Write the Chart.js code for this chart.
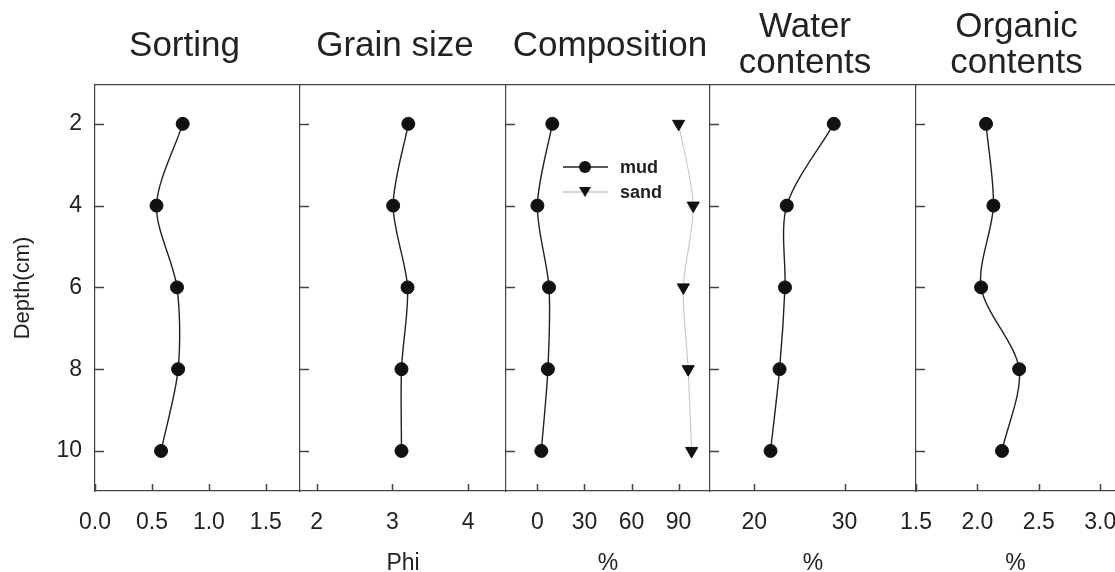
<!DOCTYPE html>
<html>
<head>
<meta charset="utf-8">
<script src="https://cdn.jsdelivr.net/npm/chart.js@4/dist/chart.umd.min.js"></script>
<style>
  body { margin: 0; background: #fff; }
  #wrap { position: relative; width: 1115px; height: 572px; }
  #wrap canvas { position: absolute; left: 0; top: 0; }
</style>
</head>
<body>
<div id="wrap">
  <canvas id="c0" width="1115" height="572"></canvas>
  <canvas id="c1" width="1115" height="572"></canvas>
  <canvas id="c2" width="1115" height="572"></canvas>
  <canvas id="c3" width="1115" height="572"></canvas>
  <canvas id="c4" width="1115" height="572"></canvas>
</div>
<script>
// data
const depths = [2, 4, 6, 8, 10];
const sorting = [0.77, 0.54, 0.72, 0.73, 0.58];
const grainSize = [3.21, 3.01, 3.2, 3.12, 3.12];
const mud = [9.5, 0, 7.4, 6.7, 2.5];
const sand = [90, 99.3, 93, 96.1, 98.3];
const water = [28.8, 23.6, 23.4, 22.8, 21.8];
const organic = [2.07, 2.13, 2.03, 2.34, 2.2];

const depthTicks = [2, 4, 6, 8, 10];
const sortingTicks = [0, 0.5, 1.0, 1.5];
const grainTicks = [2, 3, 4];
const compTicks = [0, 30, 60, 90];
const waterTicks = [20, 30];
const organicTicks = [1.5, 2.0, 2.5, 3.0];

const titles = ['Sorting', 'Grain size', 'Composition', ['Water', 'contents'], ['Organic', 'contents']];
const units = ['', 'Phi', '%', '%', '%'];

// layout
const W = 1115, H = 572;
const edges = [95, 300, 506, 710, 916, 1115];
const titleShift = [-13, -8, 2, -8, 1]; // titles aren't exactly centred in the original
const TOP = 85, BOTTOM = 491;
const FONT = "'Liberation Sans', Arial, sans-serif";
const axisCol = '#444';
const textCol = '#222';

const pts = (vals) => vals.map((v, i) => ({ x: v, y: depths[i] }));

const mudStyle = {
  borderColor: '#222', borderWidth: 1.4, tension: 0.3,
  pointRadius: 6.5, pointBackgroundColor: '#111', pointBorderColor: '#111', pointBorderWidth: 1
};

// ticks drawn inward like the original plot
const inTicks = {
  id: 'inTicks',
  afterDraw(chart) {
    const { ctx, chartArea: a, scales: { x, y } } = chart;
    ctx.save();
    ctx.strokeStyle = axisCol;
    ctx.lineWidth = 1.5;
    ctx.beginPath();
    y.ticks.forEach(t => {
      const py = Math.round(y.getPixelForValue(t.value)) + 0.5;
      ctx.moveTo(a.left, py); ctx.lineTo(a.left + 9, py);
    });
    x.ticks.forEach(t => {
      const px = Math.round(x.getPixelForValue(t.value)) + 0.5;
      ctx.moveTo(px, a.bottom); ctx.lineTo(px, a.bottom - 7);
    });
    ctx.stroke();
    ctx.restore();
  }
};

// panel heading above the plot area
const panelTitle = {
  id: 'panelTitle',
  afterDraw(chart, args, opts) {
    const { ctx, chartArea: a } = chart;
    const lines = [].concat(opts.text);
    const cx = (a.left + a.right) / 2 + opts.shift;
    const base = lines.length === 1 ? [56] : [37, 73];
    ctx.save();
    ctx.font = '35px ' + FONT;
    ctx.fillStyle = textCol;
    ctx.textAlign = 'center';
    ctx.textBaseline = 'alphabetic';
    lines.forEach((t, k) => ctx.fillText(t, cx, base[k]));
    ctx.restore();
  }
};

// small legend inside the composition panel
const compLegend = {
  id: 'compLegend',
  afterDraw(chart) {
    const ctx = chart.ctx;
    const rows = [['mud', 167, '#222', 'circle'], ['sand', 192, '#c8c8c8', 'triangle']];
    ctx.save();
    rows.forEach(([label, yy, col, shape]) => {
      ctx.strokeStyle = col; ctx.lineWidth = 1.3;
      ctx.beginPath(); ctx.moveTo(563, yy); ctx.lineTo(608, yy); ctx.stroke();
      ctx.fillStyle = '#111';
      ctx.beginPath();
      if (shape === 'circle') {
        ctx.arc(585, yy, 6, 0, Math.PI * 2);
      } else {
        ctx.moveTo(579, yy - 5); ctx.lineTo(591, yy - 5); ctx.lineTo(585, yy + 5); ctx.closePath();
      }
      ctx.fill();
      ctx.fillStyle = textCol;
      ctx.font = 'bold 18px ' + FONT;
      ctx.textBaseline = 'middle';
      ctx.fillText(label, 620, yy + 1);
    });
    ctx.restore();
  }
};

function panel(i, datasets, xmin, xmax, xticks, decimals, extraPlugins) {
  const left = edges[i], right = edges[i + 1];
  const yW = i === 0 ? 95 : 0;
  return new Chart(document.getElementById('c' + i), {
    type: 'line',
    data: { datasets },
    options: {
      responsive: false,
      animation: false,
      layout: { autoPadding: false, padding: { left: left - yW, right: W - right, top: 0, bottom: 0 } },
      plugins: {
        legend: { display: false },
        tooltip: { enabled: false },
        panelTitle: { text: titles[i], shift: titleShift[i] }
      },
      scales: {
        x: {
          type: 'linear', position: 'bottom', min: xmin, max: xmax,
          afterBuildTicks: s => { s.ticks = xticks.map(v => ({ value: v })); },
          afterFit: s => { s.height = H - BOTTOM; s.paddingLeft = 0; s.paddingRight = 0; },
          grid: { display: false, drawTicks: false },
          border: { display: true, color: axisCol, width: 1.2 },
          ticks: {
            color: textCol, padding: 18, maxRotation: 0, autoSkip: false,
            font: { family: FONT, size: 23 },
            callback: v => v.toFixed(decimals)
          },
          title: {
            display: units[i] !== '', text: units[i], color: textCol,
            font: { family: FONT, size: 23, lineHeight: 1 }, padding: { top: 0, bottom: -3 }
          }
        },
        xTop: {
          type: 'linear', position: 'top', min: xmin, max: xmax,
          afterFit: s => { s.height = TOP; s.paddingLeft = 0; s.paddingRight = 0; },
          grid: { display: false, drawTicks: false },
          border: { display: true, color: axisCol, width: 1.2 },
          ticks: { display: false }
        },
        y: {
          type: 'linear', reverse: true, min: 1.05, max: 10.98,
          afterBuildTicks: s => { s.ticks = depthTicks.map(v => ({ value: v })); },
          afterFit: s => { s.width = yW; s.paddingTop = 0; s.paddingBottom = 0; },
          grid: { display: false, drawTicks: false },
          border: { display: true, color: axisCol, width: 1.2 },
          ticks: {
            display: i === 0, color: textCol, padding: 13,
            font: { family: FONT, size: 23 }
          },
          title: {
            display: i === 0, text: 'Depth(cm)', color: textCol,
            font: { family: FONT, size: 22 }, padding: { top: 10, bottom: 0 }
          }
        }
      }
    },
    plugins: [inTicks, panelTitle].concat(extraPlugins || [])
  });
}

panel(0, [Object.assign({ label: 'Sorting', data: pts(sorting) }, mudStyle)], 0, 1.8, sortingTicks, 1);
panel(1, [Object.assign({ label: 'Grain size', data: pts(grainSize) }, mudStyle)], 1.78, 4.5, grainTicks, 0);
panel(2, [
  Object.assign({ label: 'mud', data: pts(mud) }, mudStyle),
  {
    label: 'sand', data: pts(sand), borderColor: '#c8c8c8', borderWidth: 1.1, tension: 0.3,
    pointStyle: 'triangle', rotation: 180, pointRadius: 7,
    pointBackgroundColor: '#111', pointBorderColor: '#111', pointBorderWidth: 1
  }
], -20, 110, compTicks, 0, [compLegend]);
panel(3, [Object.assign({ label: 'Water contents', data: pts(water) }, mudStyle)], 15.1, 37.9, waterTicks, 0);
panel(4, [Object.assign({ label: 'Organic contents', data: pts(organic) }, mudStyle)], 1.5, 3.12, organicTicks, 1);
</script>
</body>
</html>
